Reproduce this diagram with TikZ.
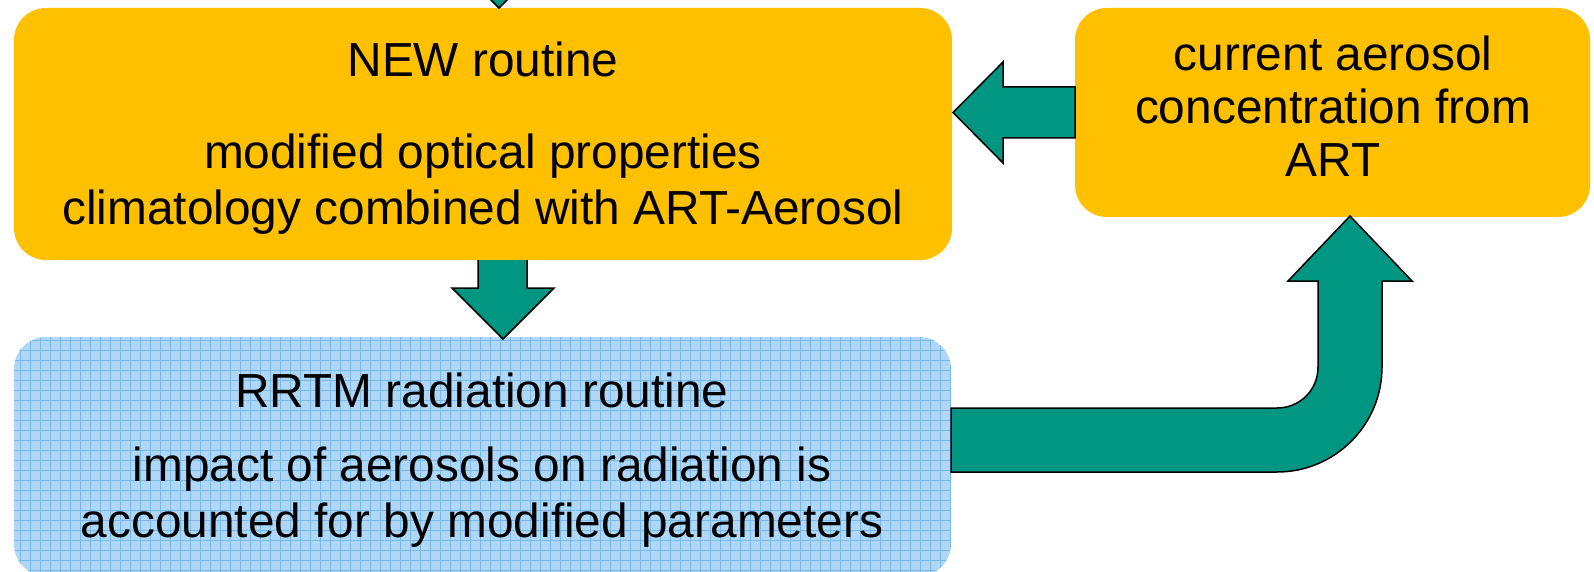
\documentclass[tikz,border=0pt]{standalone}
\usepackage{fontspec}
\setmainfont{Liberation Sans}
\definecolor{gold}{HTML}{FFC000}
\definecolor{teal2}{HTML}{009682}
\definecolor{skyfill}{HTML}{B0D7F6}
\definecolor{skyline}{HTML}{78B9EC}
\begin{document}
\begin{tikzpicture}[x=0.5pt,y=-0.5pt,
  box/.style={rounded corners=16pt, inner sep=0pt, outer sep=0pt},
  txt/.style={anchor=base, inner sep=0pt, font=\fontsize{23.9}{28}\selectfont},
  arrowfill/.style={fill=teal2},
  arrowline/.style={draw=black, line width=0.75pt, line join=miter}]
\useasboundingbox (0,0) rectangle (1594,572);
\clip (0,0) rectangle (1594,572);
% boxes
\node[box, fill=gold, minimum width=469pt, minimum height=126pt] (new) at (483,134) {};
\node[box, fill=gold, minimum width=257.5pt, minimum height=104.5pt] (art) at (1332.5,112.5) {};
\node[box, fill=skyfill, minimum width=468.5pt, minimum height=119.5pt] (rrtm) at (482.5,456.5) {};
\begin{scope}
  \clip[rounded corners=16pt] (rrtm.south west) rectangle (rrtm.north east);
  \draw[skyline, line width=0.45pt, step=5pt] (rrtm.south west) grid (rrtm.north east);
\end{scope}
% texts
\node[txt] (t1) at (483,77) {NEW routine};
\node[txt] (t2) at (483,169) {modified optical properties};
\node[txt] (t3) at (483,225) {climatology combined with ART-Aerosol};
\node[txt] (t4) at (1333,71) {current aerosol};
\node[txt] (t5) at (1333,124) {concentration from};
\node[txt] (t6) at (1333,177) {ART};
\node[txt] (t7) at (482,407) {RRTM radiation routine};
\node[txt] (t8) at (482,481) {impact of aerosols on radiation is};
\node[txt] (t9) at (482,537) {accounted for by modified parameters};
% top incoming arrow tip (clipped)
\fill[arrowfill] (448,-43) -- (499,8) -- (550,-43) -- cycle;
\draw[arrowline] (448,-43) -- (499,8) -- (550,-43);
% left arrow: art -> new
\fill[arrowfill] (1075,87) -- (1003,87) -- (1003,62) -- (953,112.5) -- (1003,163) -- (1003,138) -- (1075,138) -- cycle;
\draw[arrowline] (1075,87) -- (1003,87) -- (1003,62) -- (953,112.5) -- (1003,163) -- (1003,138) -- (1075,138) -- cycle;
% down arrow: new -> rrtm
\fill[arrowfill] (478,260) -- (478,288) -- (452,288) -- (503,339) -- (554,288) -- (527,288) -- (527,260) -- cycle;
\draw[arrowline] (478,260) -- (478,288) -- (452,288) -- (503,339) -- (554,288) -- (527,288) -- (527,260);
% bent arrow: rrtm -> art
\filldraw[arrowfill, arrowline] (951,408) -- (1277,408) .. controls (1300,408) and (1318,390) .. (1318,367)
  -- (1318,281) -- (1288,281) -- (1350,216) -- (1412,281) -- (1382,281) -- (1382,367)
  .. controls (1382,425) and (1335,472) .. (1277,472) -- (951,472) -- cycle;
\end{tikzpicture}
\end{document}
